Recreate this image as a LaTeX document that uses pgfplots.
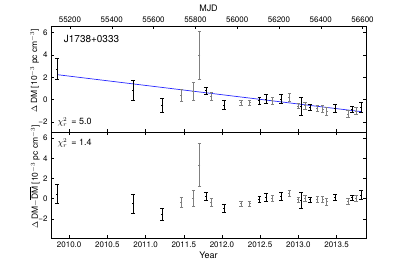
\documentclass[border=0pt]{standalone}
\usepackage{pgfplots}
\pgfplotsset{compat=1.18}
\usepackage{pgfplotstable}
\usepackage{fontspec}
\setmainfont{TeX Gyre Heros}
\definecolor{fitblue}{RGB}{40,40,255}
\definecolor{graybar}{gray}{0.5}

% top panel: year, DM, error
\pgfplotstableread{
x y e
2009.842 2.75 0.95
2010.837 0.88 0.90
2011.217 -0.47 0.63
2011.788 0.82 0.33
2012.024 -0.47 0.40
2012.491 -0.08 0.30
2012.574 0.07 0.39
2012.773 0.07 0.37
2013.032 -0.58 0.80
2013.150 -0.68 0.23
2013.478 -0.77 0.33
2013.706 -0.86 0.25
2013.818 -0.68 0.42
}\topblack
\pgfplotstableread{
x y e
2011.470 0.43 0.54
2011.627 0.77 0.82
2011.706 4.00 2.15
2011.863 0.28 0.37
2012.247 -0.26 0.25
2012.361 -0.26 0.25
2012.660 -0.08 0.30
2012.883 0.22 0.32
2013.002 -0.56 0.23
2013.090 -0.53 0.30
2013.250 -0.77 0.30
2013.317 -0.83 0.30
2013.369 -1.07 0.35
2013.653 -1.28 0.30
2013.758 -1.01 0.30
}\topgray
% bottom panel: residuals
\pgfplotstableread{
x y e
2009.842 0.47 0.95
2010.837 -0.50 0.92
2011.217 -1.59 0.60
2011.788 0.20 0.39
2012.024 -0.93 0.40
2012.491 -0.10 0.30
2012.574 0.12 0.38
2012.773 0.25 0.40
2013.032 -0.15 0.80
2013.150 -0.10 0.23
2013.478 0.12 0.33
2013.706 0.12 0.25
2013.818 0.38 0.42
}\botblack
\pgfplotstableread{
x y e
2011.470 -0.34 0.52
2011.627 0.00 0.80
2011.706 3.33 2.13
2011.863 -0.35 0.36
2012.247 -0.48 0.25
2012.361 -0.48 0.25
2012.660 0.00 0.30
2012.883 0.50 0.30
2013.002 -0.10 0.23
2013.090 0.00 0.30
2013.250 -0.10 0.30
2013.317 -0.10 0.30
2013.369 -0.27 0.35
2013.653 -0.27 0.30
2013.758 0.00 0.30
}\botgray

\pgfplotsset{
  panel/.style={
    width=315bp, height=106bp, scale only axis,
    xmin=2009.762, xmax=2013.886,
    xtick={2010,2010.5,2011,2011.5,2012,2012.5,2013,2013.5},
    ytick={-2,0,2,4,6},
    yticklabels={−2,0,2,4,6},
    tick align=inside,
    major tick length=3bp,
    axis line style={line width=0.8bp},
    tick style={line width=0.5bp, black},
    ticklabel style={font=\fontsize{8}{9}\selectfont},
    xlabel style={font=\fontsize{9}{10}\selectfont, yshift=2bp},
    ylabel style={font=\fontsize{8.5}{10}\selectfont,
      at={(axis description cs:-0.052,0.575)}, anchor=center},
    /pgf/number format/assume math mode=true,
  },
  ebblackstyle/.style={only marks, black, mark=-, mark size=1bp,
    error bars/.cd, y dir=both, y explicit,
    error bar style={line width=0.5bp, black},
    error mark options={rotate=90, mark size=1.8bp, line width=0.5bp, black}},
  ebgraystyle/.style={only marks, graybar, mark=-, mark size=1bp,
    error bars/.cd, y dir=both, y explicit,
    error bar style={line width=0.5bp, graybar},
    error mark options={rotate=90, mark size=1.8bp, line width=0.5bp, graybar}},
}

\begin{document}
\begin{tikzpicture}
\useasboundingbox (-51bp,-133bp) rectangle (356bp,132bp);
% top panel
\begin{axis}[panel, at={(0bp,0bp)}, anchor=south west,
  ymin=-2.9, ymax=6.6,
  xtick pos=bottom, xticklabels={},
  ylabel={$\Delta$ DM [10$^{-3}$ pc cm$^{-3}$]},
]
\addplot[fitblue, line width=0.7bp] coordinates {(2009.842,2.24) (2013.818,-1.07)};
\addplot+[ebblackstyle] table[x=x, y=y, y error=e] {\topblack};
\addplot+[ebgraystyle] table[x=x, y=y, y error=e] {\topgray};
\node[anchor=west, font=\fontsize{10}{11}\selectfont] at (rel axis cs:0.03,0.875) {J1738+0333};
\node[anchor=west, inner sep=0pt, font=\fontsize{9}{10}\selectfont] at (rel axis cs:0.02,0.094) {$\chi_r^2$\, = 5.0};
\end{axis}
% MJD axis on top
\begin{axis}[at={(0bp,0bp)}, anchor=south west,
  width=315bp, height=106bp, scale only axis,
  xmin=55109.3, xmax=56616.4, ymin=0, ymax=1,
  axis x line*=top, axis y line=none,
  scaled x ticks=false,
  xtick={55200,55400,55600,55800,56000,56200,56400,56600},
  xticklabels={55200,55400,55600,55800,56000,56200,56400,56600},
  tick align=inside, major tick length=3bp,
  axis line style={line width=0.8bp, -},
  tick style={line width=0.5bp, black},
  ticklabel style={font=\fontsize{8}{9}\selectfont},
  xlabel={MJD}, xlabel style={font=\fontsize{9}{10}\selectfont, yshift=-2bp},
]
\end{axis}
% bottom panel
\begin{axis}[panel, at={(0bp,-106bp)}, anchor=south west,
  ymin=-3.9, ymax=6.6,
  xticklabels={2010.0,2010.5,2011.0,2011.5,2012.0,2012.5,2013.0,2013.5},
  xlabel={Year},
  ylabel={$\Delta$ DM$-\overline{\hbox{DM}}$ [10$^{-3}$ pc cm$^{-3}$]},
]
\addplot+[ebblackstyle] table[x=x, y=y, y error=e] {\botblack};
\addplot+[ebgraystyle] table[x=x, y=y, y error=e] {\botgray};
\node[anchor=west, inner sep=0pt, font=\fontsize{9}{10}\selectfont] at (rel axis cs:0.02,0.896) {$\chi_r^2$\, = 1.4};
\end{axis}
\end{tikzpicture}
\end{document}
